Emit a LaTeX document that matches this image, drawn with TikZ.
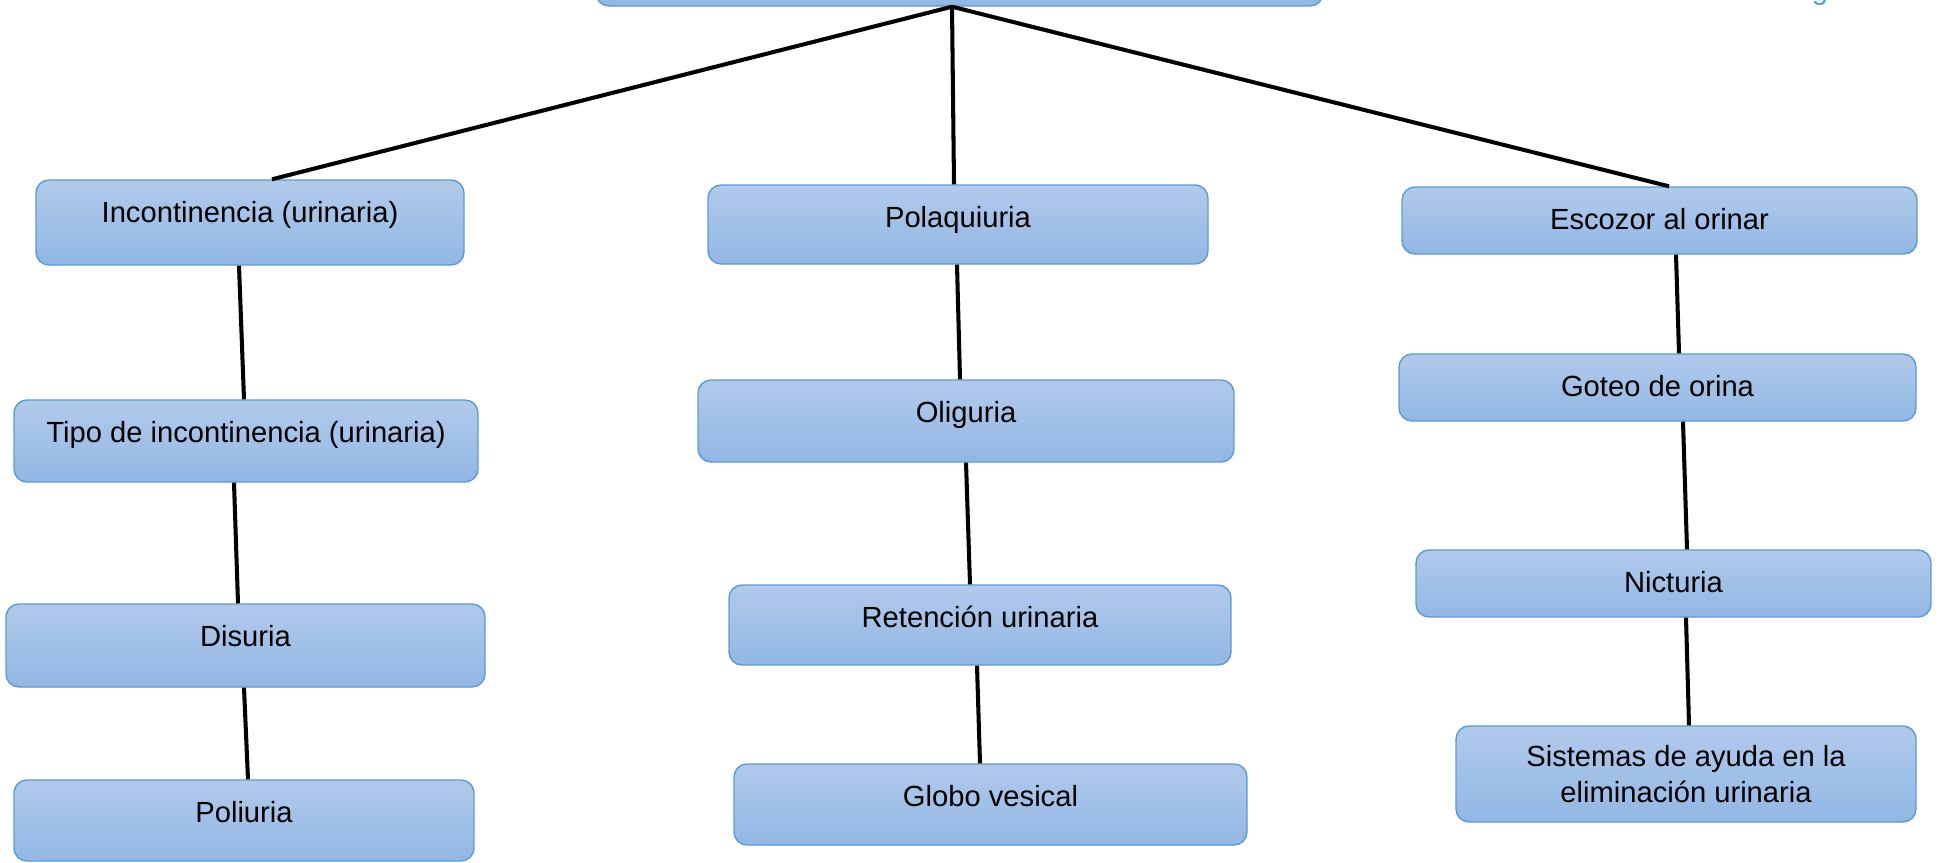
\documentclass[tikz,border=0pt]{standalone}
\usepackage{fontspec}
\setmainfont{Liberation Sans}
\usetikzlibrary{calc}

\definecolor{boxtop}{RGB}{177,202,235}
\definecolor{boxbot}{RGB}{146,183,228}
\definecolor{boxline}{RGB}{91,155,213}

\tikzset{
    box/.style={draw=boxline, line width=0.8pt, rounded corners=0.26cm,
        top color=boxtop, bottom color=boxbot, inner sep=0pt},
    link/.style={line width=2.3pt, black}
}

\begin{document}
\begin{tikzpicture}[x=0.02cm, y=-0.02cm, font=\fontsize{16.6}{20.5}\selectfont]
    \useasboundingbox (0,0) rectangle (1942,862);

    \node[box, minimum width=727*0.02cm, minimum height=80*0.02cm] (top) at (959.5,-34) {};
    \node[text=boxline, anchor=base] (cut) at (1820,-1) {g};

    % text sits at a fixed distance below the top edge
    \foreach \nm/\x/\y/\w/\h/\txt in {
        inc/250/222.5/428/85/{Incontinencia (urinaria)},
        tipo/246/441/464/82/{Tipo de incontinencia (urinaria)},
        dis/245.5/645.5/479/83/Disuria,
        poli/244/820.5/460/81/Poliuria,
        pola/958/224.5/500/79/Polaquiuria,
        oli/966/421/536/82/Oliguria,
        ret/980/625/502/80/{Retención urinaria},
        glo/990.5/804.5/513/81/{Globo vesical},
        esc/1659.5/220.5/515/67/{Escozor al orinar},
        got/1657.5/387.5/517/67/{Goteo de orina},
        nic/1673.5/583.5/515/67/Nicturia} {
        \node[box, minimum width=\w*0.02cm, minimum height=\h*0.02cm,
            text height=0.4cm, text depth=(\h-64)*0.02cm] (\nm) at (\x,\y) {\txt};
    }
    \node[box, minimum width=460*0.02cm, minimum height=96*0.02cm,
        align=center] (sis) at (1686,774)
        {\raisebox{-2pt}{Sistemas de ayuda en la}\\\raisebox{-2pt}{eliminación urinaria}};

    % connectors
    \coordinate (hub) at ($(top.south)+(-7.5,0)$);
    \draw[link] (hub) -- ($(inc.north)+(22,0)$);
    \draw[link] (hub) -- ($(pola.north)+(-4,0)$);
    \draw[link] (hub) -- ($(esc.north)+(9.5,0)$);

    \draw[link] ($(inc.south)+(-11,0)$) -- ($(tipo.north)+(-2,0)$);
    \draw[link] ($(tipo.south)+(-12,0)$) -- ($(dis.north)+(-7.5,0)$);
    \draw[link] ($(dis.south)+(-1.5,0)$) -- ($(poli.north)+(4,0)$);

    \draw[link] ($(pola.south)+(-1,0)$) -- ($(oli.north)+(-6,0)$);
    \draw[link] (oli.south) -- ($(ret.north)+(-10,0)$);
    \draw[link] ($(ret.south)+(-3,0)$) -- ($(glo.north)+(-10.5,0)$);

    \draw[link] ($(esc.south)+(16.5,0)$) -- ($(got.north)+(21.5,0)$);
    \draw[link] ($(got.south)+(25.5,0)$) -- ($(nic.north)+(13.5,0)$);
    \draw[link] ($(nic.south)+(12.5,0)$) -- ($(sis.north)+(3,0)$);
\end{tikzpicture}
\end{document}
